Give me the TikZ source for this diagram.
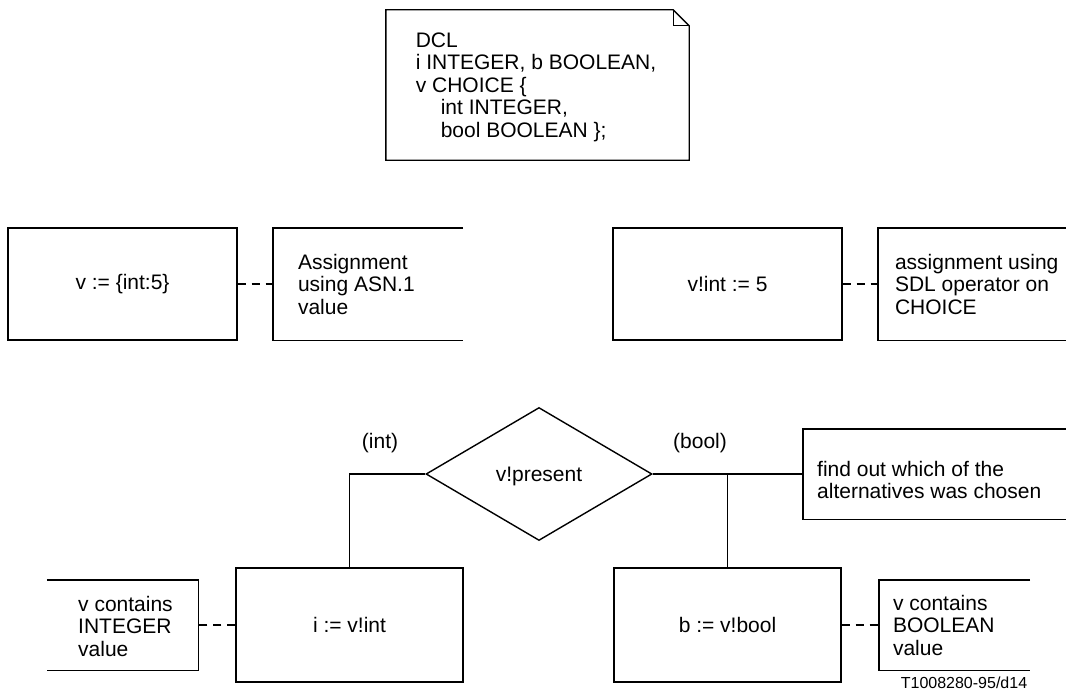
\documentclass[tikz,border=0pt]{standalone}
\usepackage{fontspec}
\setmainfont{Liberation Sans}
\usetikzlibrary{shapes.geometric}
\begin{document}
\begin{tikzpicture}[x=1pt,y=-1pt,
  every node/.style={font=\fontsize{21}{22.5}\selectfont},
  line/.style={line width=1.4pt, line join=miter},
  taskbox/.style={draw, line width=1.4pt, minimum width=229pt, minimum height=112pt, inner sep=0pt},
  cframe/.style={inner sep=0pt, minimum height=112pt},
  ctext/.style={anchor=west, align=left, inner sep=0pt},
  conn/.style={line width=1.4pt, dash pattern=on 8pt off 6pt},
  decision/.style={draw, diamond, aspect=1.7, line width=1.4pt, minimum width=226pt, minimum height=133pt, inner sep=0pt}
]
\useasboundingbox (0,0) rectangle (1066,693);

% DCL text symbol
\node[inner sep=0pt, minimum width=303pt, minimum height=150pt] (dcl) at (537.5,85) {};
\draw[line] (dcl.north west) -- ([xshift=-16pt]dcl.north east) -- ([yshift=-16pt]dcl.north east) -- (dcl.south east) -- (dcl.south west) -- cycle;
\draw[line] ([xshift=-16pt]dcl.north east) -- ([xshift=-16pt,yshift=-16pt]dcl.north east) -- ([yshift=-16pt]dcl.north east);
\node[align=left, inner sep=0pt] (dcltext) at (536,87) {DCL\\ i INTEGER, b BOOLEAN,\\ v CHOICE \{\\ \hspace*{25pt}int INTEGER,\\ \hspace*{25pt}bool BOOLEAN \};};

% top row
\node[taskbox] (b1) at (122.5,284) {v := \{int:5\}};
\node[cframe, minimum width=190pt] (c1) at (368,284) {};
\draw[line] (c1.north east) -- (c1.north west) -- (c1.south west) -- (c1.south east);
\node[ctext] (c1t) at ([xshift=25pt]c1.west) {Assignment\\ using ASN.1\\ value};
\draw[conn] (b1.east) -- (c1.west);

\node[taskbox] (b2) at (727.5,284) {v!int := 5};
\node[cframe, minimum width=190pt] (c2) at (973,284) {};
\draw[line] (c2.north east) -- (c2.north west) -- (c2.south west) -- (c2.south east);
\node[ctext] (c2t) at ([xshift=17pt]c2.west) {assignment using\\ SDL operator on\\ CHOICE};
\draw[conn] (b2.east) -- (c2.west);

% decision
\node[decision] (dec) at (539,474) {};
\node[inner sep=0pt] (dect) at (539,476) {v!present};
\node[inner sep=0pt] (lint) at (380,443) {(int)};
\node[inner sep=0pt] (lbool) at (700,443) {(bool)};

\node[cframe, minimum width=270pt, minimum height=90pt] (c3) at (938,474) {};
\draw[line] (c3.north east) -- (c3.north west) -- (c3.south west) -- (c3.south east);
\node[ctext, anchor=north west] (c3t) at (817,461) {find out which of the\\ alternatives was chosen};

% bottom row
\node[taskbox, minimum width=227pt, minimum height=114pt] (bi) at (349.5,625) {i := v!int};
\node[taskbox, minimum width=227pt, minimum height=114pt] (bb) at (727.5,625) {b := v!bool};

\draw[line] (dec.west) -| (bi.north);
\draw[line] (dec.east) -| (bb.north);
\draw[line] (dec.east) -- (c3.west);

\node[cframe, minimum width=151pt, minimum height=90pt] (c4) at (122.5,625) {};
\draw[line] (c4.north west) -- (c4.north east) -- (c4.south east) -- (c4.south west);
\node[ctext] (c4t) at (78,626) {v contains\\ INTEGER\\ value};
\draw[conn] (bi.west) -- (c4.east);

\node[cframe, minimum width=151pt, minimum height=90pt] (c5) at (954.5,625) {};
\draw[line] (c5.north east) -- (c5.north west) -- (c5.south west) -- (c5.south east);
\node[ctext] (c5t) at ([xshift=14pt]c5.west) {v contains\\ BOOLEAN\\ value};
\draw[conn] (bb.east) -- (c5.west);

\node[inner sep=0pt, font=\fontsize{16}{18}\selectfont] (ref) at (964,683) {T1008280-95/d14};
\end{tikzpicture}
\end{document}
